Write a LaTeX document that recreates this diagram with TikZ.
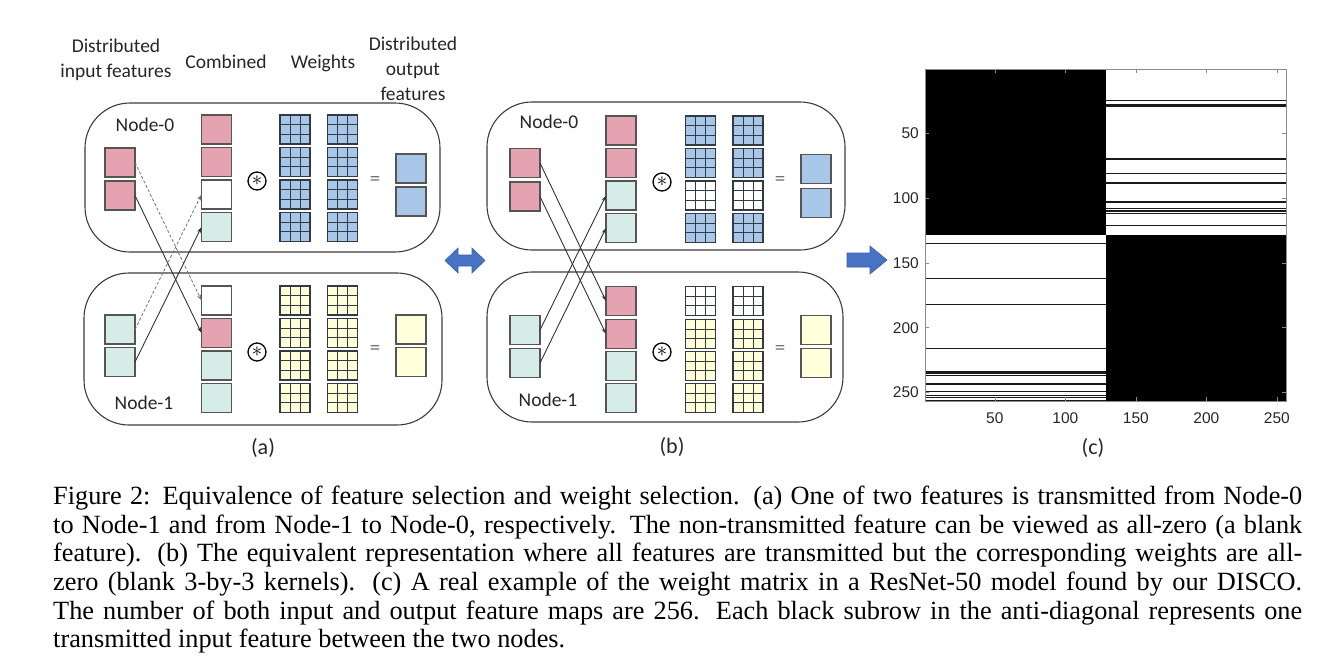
\documentclass[tikz,border=0pt]{standalone}
\usepackage{fontspec}
\setmainfont{Liberation Serif}
\newfontfamily\carl{Carlito}
\newfontfamily\arl{Liberation Sans}
\usetikzlibrary{calc,arrows.meta}
\definecolor{pinkf}{RGB}{229,162,177}
\definecolor{tealf}{RGB}{214,236,232}
\definecolor{bluef}{RGB}{168,199,232}
\definecolor{yellowf}{RGB}{255,255,218}
\definecolor{sqb}{RGB}{85,85,85}
\definecolor{gridc}{RGB}{50,58,68}
\definecolor{boxc}{RGB}{60,60,60}
\definecolor{connc}{RGB}{50,50,50}
\definecolor{barrow}{RGB}{72,114,196}
\definecolor{barrowd}{RGB}{55,95,170}
\definecolor{tickc}{RGB}{40,40,40}
\newcommand\wnode[4]{%
  \node[wgt,fill=#4] (#1) at (#2,#3) {};
  \draw[gridline] ($(#1.north west)!1/3!(#1.north east)$) -- ($(#1.south west)!1/3!(#1.south east)$);
  \draw[gridline] ($(#1.north west)!2/3!(#1.north east)$) -- ($(#1.south west)!2/3!(#1.south east)$);
  \draw[gridline] ($(#1.north west)!1/3!(#1.south west)$) -- ($(#1.north east)!1/3!(#1.south east)$);
  \draw[gridline] ($(#1.north west)!2/3!(#1.south west)$) -- ($(#1.north east)!2/3!(#1.south east)$);
}
\begin{document}
\begin{tikzpicture}[x=1pt,y=-1pt,
  feat/.style={draw=sqb, line width=1.1pt, minimum width=30pt, minimum height=29pt, inner sep=0pt, outer sep=0pt},
  wgt/.style={draw=gridc, line width=1.1pt, minimum width=30pt, minimum height=29pt, inner sep=0pt, outer sep=0pt},
  gridline/.style={draw=gridc, line width=1.0pt},
  grp/.style={draw=boxc, line width=1.1pt, rounded corners=45pt, inner sep=0pt},
  lbl/.style={font=\carl\fontsize{19.5}{25}\selectfont, align=center, inner sep=0pt, text=black!85},
  plbl/.style={font=\carl\fontsize{22}{25}\selectfont, inner sep=0pt, text=black!85},
  eqs/.style={font=\carl\fontsize{21}{22}\selectfont, inner sep=0pt, text=black!55},
  ast/.style={circle, draw=black, line width=1.3pt, minimum size=18pt, inner sep=0pt, font=\fontsize{22}{22}\selectfont},
  conn/.style={line width=0.9pt, draw=connc, -{Stealth[length=6pt,width=4pt]}},
  dconn/.style={line width=0.8pt, draw=black!55, dash pattern=on 3pt off 2pt, -{Stealth[length=6pt,width=4pt]}},
  tick/.style={font=\arl\fontsize{15.5}{16}\selectfont, inner sep=0pt, text=tickc},
  blockarrow/.style={fill=barrow, draw=barrowd, line width=0.6pt}
]
\useasboundingbox (0,0) rectangle (1321,665);

% ---------- column headers ----------
\node[lbl] (hin) at (116,59.5) {Distributed\\input features};
\node[lbl] (hcomb) at (226,62) {Combined};
\node[lbl] (hw) at (323,63) {Weights};
\node[lbl] (hout) at (413,69) {Distributed\\output\\features};

% ---------- panel (a) ----------
\node[grp, minimum width=355pt, minimum height=149pt] (a0box) at (262.5,177.5) {};
\node[grp, minimum width=358pt, minimum height=152pt] (a1box) at (263,349) {};
\node[lbl] (a0name) at (145,125) {Node-0};
\node[lbl] (a1name) at (144,403) {Node-1};

\node[feat,fill=pinkf] (a0i1) at (120,162.5) {};
\node[feat,fill=pinkf] (a0i2) at (120,195.5) {};
\foreach \n/\y/\c in {1/129.5/pinkf,2/162/pinkf,3/194.5/white,4/227/tealf}
  \node[feat,fill=\c] (a0c\n) at (216.5,\y) {};
\foreach \n/\y in {1/129.5,2/162,3/194.5,4/227} {
  \wnode{a0w\n}{295}{\y}{bluef}
  \wnode{a0v\n}{342.5}{\y}{bluef}
}
\node[ast] (a0x) at (257,181) {$\ast$};
\node[eqs] (a0e) at (375,181) {=};
\node[feat,fill=bluef] (a0o1) at (411,168.5) {};
\node[feat,fill=bluef] (a0o2) at (411,201.5) {};

\node[feat,fill=tealf] (a1i1) at (120,329.5) {};
\node[feat,fill=tealf] (a1i2) at (120,362) {};
\foreach \n/\y/\c in {1/300.5/white,2/333/pinkf,3/365.5/tealf,4/398/tealf}
  \node[feat,fill=\c] (a1c\n) at (216.5,\y) {};
\foreach \n/\y in {1/300.5,2/333,3/365.5,4/398} {
  \wnode{a1w\n}{295}{\y}{yellowf}
  \wnode{a1v\n}{342.5}{\y}{yellowf}
}
\node[ast] (a1x) at (257,352) {$\ast$};
\node[eqs] (a1e) at (375,350) {=};
\node[feat,fill=yellowf] (a1o1) at (411,329.5) {};
\node[feat,fill=yellowf] (a1o2) at (411,362) {};

\draw[dconn] (a0i1.east) -- (a1c1.west);
\draw[conn] (a0i2.east) -- (a1c2.west);
\draw[dconn] (a1i1.east) -- (a0c3.west);
\draw[conn] (a1i2.east) -- (a0c4.west);
\node[plbl] (alab) at (263,448) {(a)};

% ---------- panel (b) ----------
\node[grp, minimum width=358pt, minimum height=148pt] (b0box) at (666,176) {};
\node[grp, minimum width=356pt, minimum height=150pt] (b1box) at (665,347) {};
\node[lbl] (b0name) at (549,122) {Node-0};
\node[lbl] (b1name) at (548,400) {Node-1};

\node[feat,fill=pinkf] (b0i1) at (525,163) {};
\node[feat,fill=pinkf] (b0i2) at (525,196.5) {};
\foreach \n/\y/\c in {1/130.5/pinkf,2/163/pinkf,3/195.5/tealf,4/228/tealf}
  \node[feat,fill=\c] (b0c\n) at (621,\y) {};
\foreach \n/\y/\c in {1/130.5/bluef,2/163/bluef,3/195.5/white,4/228/bluef} {
  \wnode{b0w\n}{700.5}{\y}{\c}
  \wnode{b0v\n}{748}{\y}{\c}
}
\node[ast] (b0x) at (662,182) {$\ast$};
\node[eqs] (b0e) at (780,181) {=};
\node[feat,fill=bluef] (b0o1) at (816,169) {};
\node[feat,fill=bluef] (b0o2) at (816,203) {};

\node[feat,fill=tealf] (b1i1) at (525,330) {};
\node[feat,fill=tealf] (b1i2) at (525,363) {};
\foreach \n/\y/\c in {1/301/pinkf,2/334/pinkf,3/366/tealf,4/398/tealf}
  \node[feat,fill=\c] (b1c\n) at (621,\y) {};
\foreach \n/\y/\c in {1/301/white,2/334/yellowf,3/366/yellowf,4/398/yellowf} {
  \wnode{b1w\n}{700.5}{\y}{\c}
  \wnode{b1v\n}{748}{\y}{\c}
}
\node[ast] (b1x) at (662,352) {$\ast$};
\node[eqs] (b1e) at (780,350) {=};
\node[feat,fill=yellowf] (b1o1) at (816,330) {};
\node[feat,fill=yellowf] (b1o2) at (816,363) {};

\draw[conn] (b0i1.east) -- (b1c1.west);
\draw[conn] (b0i2.east) -- (b1c2.west);
\draw[conn] (b1i1.east) -- (b0c3.west);
\draw[conn] (b1i2.east) -- (b0c4.west);
\node[plbl] (blab) at (672,447) {(b)};

% ---------- block arrows ----------
\draw[blockarrow] (445,260.5) -- (458,248) -- (458,255) -- (472,255) -- (472,248) -- (485,260.5)
  -- (472,273) -- (472,266) -- (458,266) -- (458,273) -- cycle;
\draw[blockarrow] (847,253) -- (870,253) -- (870,246) -- (887,260) -- (870,274) -- (870,267) -- (847,267) -- cycle;

% ---------- panel (c) ----------
\fill[black] (925,69) rectangle (1105.5,235);
\fill[black] (1105.5,235) rectangle (1286,401);
\foreach \r in {25,28,29,70,81,88,89,103,108,110,112,121}
  \fill[black!90] (1105.5,{69+(\r-1)*1.296875}) rectangle (1286,{69+\r*1.296875});
\foreach \r in {135,162,182,216,234,235,237,243,244,249,252,254,256}
  \fill[black!90] (925,{69+(\r-1)*1.296875}) rectangle (1105.5,{69+\r*1.296875});
\draw[black!45, line width=0.6pt] (925,69) rectangle (1286,401);
\foreach \v in {50,100,150,200,250} {
  \draw[black!45, line width=0.6pt] ({925+(\v-0.5)*1.41015625},401) -- ++(0,-4);
  \draw[black!45, line width=0.6pt] ({925+(\v-0.5)*1.41015625},69) -- ++(0,4);
  \draw[black!45, line width=0.6pt] (925,{69+(\v-0.5)*1.296875}) -- ++(4,0);
  \draw[black!45, line width=0.6pt] (1286,{69+(\v-0.5)*1.296875}) -- ++(-4,0);
  \node[tick, anchor=east] (yl\v) at (919,{69+(\v-0.5)*1.296875}) {\v};
  \node[tick] (xl\v) at ({925+(\v-0.5)*1.41015625},418) {\v};
}
\node[plbl] (clab) at (1093,448) {(c)};

% ---------- caption ----------
\node[anchor=north west, text width=1249pt, align=justify, inner sep=0pt,
      font=\fontsize{26.3}{28.6}\selectfont] (cap) at (53,486) {%
\hyphenpenalty=10000 Figure 2: Equivalence of feature selection and weight selection. (a) One of two features is transmitted from Node-0\linebreak
to Node-1 and from Node-1 to Node-0, respectively. The non-transmitted feature can be viewed as all-zero (a blank\linebreak
feature). (b) The equivalent representation where all features are transmitted but the corresponding weights are all-\linebreak
zero (blank 3-by-3 kernels). (c) A real example of the weight matrix in a ResNet-50 model found by our DISCO.\linebreak
The number of both input and output feature maps are 256. Each black subrow in the anti-diagonal represents one\linebreak
transmitted input feature between the two nodes.};
\end{tikzpicture}
\end{document}
